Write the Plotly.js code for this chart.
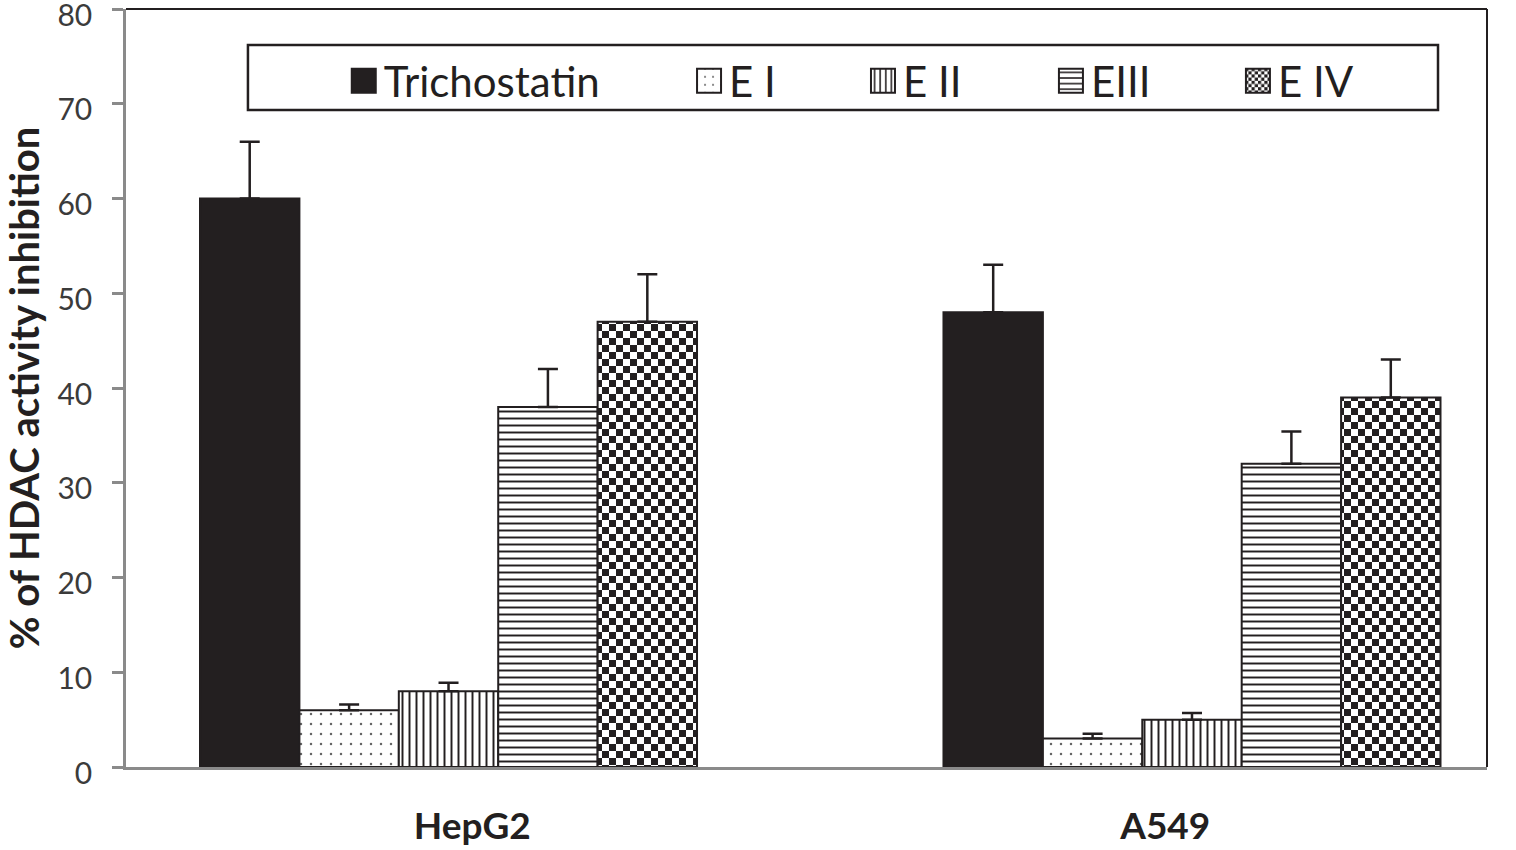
<!DOCTYPE html>
<html>
<head>
<meta charset="utf-8">
<script src="https://cdn.plot.ly/plotly-3.0.1.min.js"></script>
<style>
  html, body { margin: 0; padding: 0; background: #fff; }
  #chart { width: 1516px; height: 850px; }
</style>
</head>
<body>
<div id="chart"></div>
<script>
// data
const cellLines = ["HepG2", "A549"];
const groupX = [0, 1];
const labelPos = [0.032, 0.964];
const seriesNames = ["Trichostatin", "E I", "E II", "EIII", "E IV"];
const trichostatin = [60, 48];
const e1 = [6, 3];
const e2 = [8, 5];
const e3 = [38, 32];
const e4 = [47, 39];
const trichostatinErr = [6, 5];
const e1Err = [0.6, 0.5];
const e2Err = [0.9, 0.7];
const e3Err = [4, 3.4];
const e4Err = [5, 4];
const yTicks = [0, 10, 20, 30, 40, 50, 60, 70, 80];

const INK = "#231f20";
const GREY = "#8a8a8a";

const values = [trichostatin, e1, e2, e3, e4];
const errors = [trichostatinErr, e1Err, e2Err, e3Err, e4Err];
const patterns = [
  null,
  { shape: ".", size: 10, solidity: 0.05, fgcolor: "#666" },
  { shape: "|", size: 7, solidity: 0.28, fgcolor: INK },
  { shape: "-", size: 7, solidity: 0.28, fgcolor: INK },
  { shape: "+", size: 14, solidity: 0.5, fgcolor: INK },
];
const legendX = [0.16, 0.4137, 0.5415, 0.6796, 0.817];
const legendIds = ["legend", "legend2", "legend3", "legend4", "legend5"];

const traces = seriesNames.map((name, i) => {
  const marker = { color: INK, line: { color: INK, width: 2 } };
  if (patterns[i]) {
    marker.pattern = { ...patterns[i], fillmode: "replace", bgcolor: "white" };
  }
  return {
    type: "bar",
    name,
    x: groupX,
    y: values[i],
    marker,
    legend: legendIds[i],
    error_y: {
      type: "data",
      symmetric: false,
      array: errors[i],
      arrayminus: errors[i].map(() => 0),
      color: INK,
      thickness: 2.5,
      width: 10,
    },
    hoverinfo: "skip",
  };
});

const legendBase = {
  orientation: "h",
  xanchor: "left",
  yanchor: "middle",
  y: 0.905,
  bgcolor: "rgba(0,0,0,0)",
  borderwidth: 0,
  font: { family: "Lato, sans-serif", size: 42, color: INK },
};

const layout = {
  width: 1516,
  height: 850,
  margin: { l: 126, r: 29, t: 9, b: 83 },
  paper_bgcolor: "white",
  plot_bgcolor: "white",
  barmode: "group",
  bargap: 0.3315,
  bargroupgap: 0,
  showlegend: true,
  xaxis: {
    range: [-0.4338, 1.3968],
    tickvals: labelPos,
    ticktext: cellLines,
    ticks: "",
    showgrid: false,
    zeroline: false,
    showline: true,
    linecolor: GREY,
    linewidth: 2.5,
    ticklabelstandoff: 25,
    tickfont: { family: "Lato, sans-serif", size: 37, color: INK, weight: 700 },
  },
  yaxis: {
    range: [0, 80],
    tickvals: yTicks,
    ticks: "outside",
    ticklen: 11,
    tickwidth: 2.5,
    tickcolor: GREY,
    showgrid: false,
    zeroline: false,
    showline: true,
    linecolor: GREY,
    linewidth: 2.5,
    ticklabelstandoff: 14,
    ticklabelshift: 6,
    ticklabeloverflow: "allow",
    tickfont: { family: "Lato, sans-serif", size: 30, color: "#3b3b3b" },
    title: {
      text: "% of HDAC activity inhibition",
      standoff: 16,
      font: { family: "Lato, sans-serif", size: 40, color: INK, weight: 700 },
    },
  },
  shapes: [
    { type: "line", xref: "paper", yref: "paper", x0: 0, x1: 1, y0: 1, y1: 1, line: { color: INK, width: 2 } },
    { type: "line", xref: "paper", yref: "paper", x0: 1, x1: 1, y0: 0, y1: 1, line: { color: INK, width: 2 } },
    { type: "rect", xref: "paper", yref: "paper", x0: 0.0896, x1: 0.964, y0: 0.8668, y1: 0.9525,
      line: { color: INK, width: 2.5 }, fillcolor: "rgba(0,0,0,0)" },
  ],
};
legendIds.forEach((id, i) => {
  layout[id] = { ...legendBase, x: legendX[i] };
});

// checkerboard fill: swap the contents of the pattern Plotly made for E IV
function checker(pat, cell) {
  const ns = "http://www.w3.org/2000/svg";
  while (pat.firstChild) pat.removeChild(pat.firstChild);
  pat.setAttribute("width", 2 * cell);
  pat.setAttribute("height", 2 * cell);
  const sq = (x, y, s, c) => {
    const r = document.createElementNS(ns, "rect");
    r.setAttribute("x", x);
    r.setAttribute("y", y);
    r.setAttribute("width", s);
    r.setAttribute("height", s);
    r.setAttribute("fill", c);
    pat.appendChild(r);
  };
  sq(0, 0, 2 * cell, "#fff");
  sq(0, 0, cell, INK);
  sq(cell, cell, cell, INK);
}

function patternOf(el) {
  const m = /#([^"')]+)/.exec(el.style.fill || el.getAttribute("fill") || "");
  return m ? document.getElementById(m[1]) : null;
}

function touchUp() {
  const gd = document.getElementById("chart");
  const barTraces = gd.querySelectorAll(".barlayer .trace");
  if (barTraces[4]) {
    barTraces[4].querySelectorAll("path").forEach((p) => {
      const pat = patternOf(p);
      if (pat) checker(pat, 7);
    });
  }
  legendIds.forEach((id, i) => {
    const g = gd.querySelector("g." + id) || gd.querySelectorAll("g.legend, g[class^='legend']")[i];
    if (!g) return;
    g.querySelectorAll(".legendpoints path").forEach((p) => {
      p.setAttribute("d", "M12,12H-12V-12H12Z");
      if (i === 4) {
        const pat = patternOf(p);
        if (pat) checker(pat, 4);
      }
    });
  });
}

Plotly.newPlot("chart", traces, layout, { displayModeBar: false, responsive: false }).then((gd) => {
  touchUp();
  gd.on("plotly_afterplot", touchUp);
  setTimeout(touchUp, 50);
});
</script>
</body>
</html>
